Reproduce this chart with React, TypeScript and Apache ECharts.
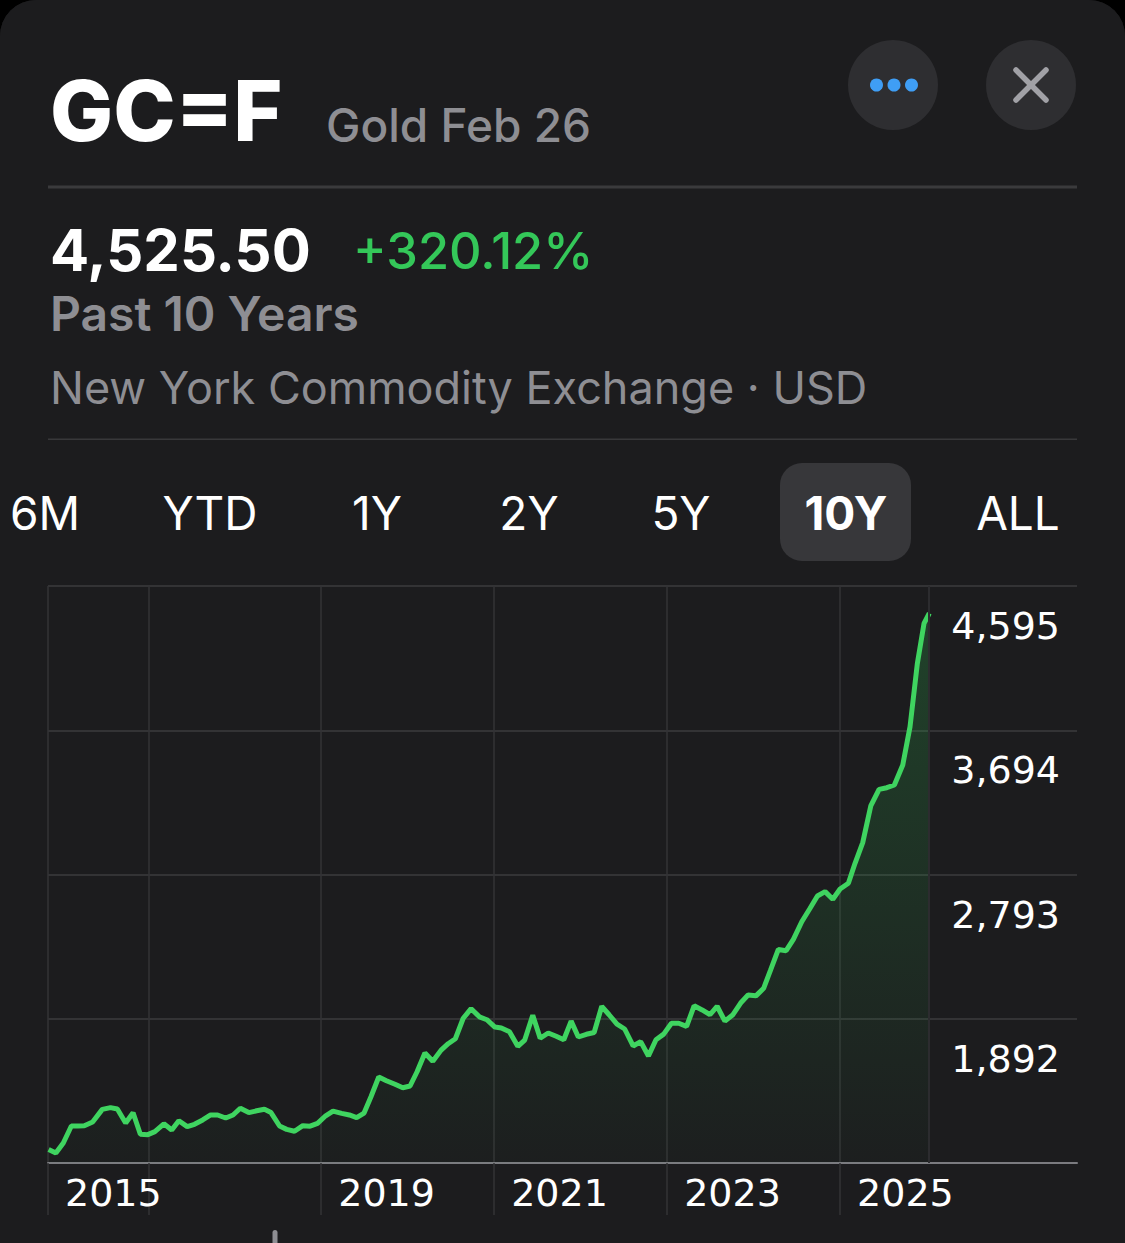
import React, { useEffect, useRef } from "react";
import * as echarts from "echarts";

// ---- data ----
const yearFrac = [
  2015.847, 2015.931, 2016.017, 2016.11, 2016.185, 2016.26, 2016.356, 2016.468, 2016.563, 2016.642,
  2016.738, 2016.824, 2016.908, 2016.995, 2017.076, 2017.18, 2017.271, 2017.353, 2017.45, 2017.534,
  2017.629, 2017.721, 2017.801, 2017.895, 2017.98, 2018.064, 2018.162, 2018.253, 2018.343, 2018.419,
  2018.518, 2018.6, 2018.691, 2018.787, 2018.871, 2018.957, 2019.051, 2019.136, 2019.236, 2019.325,
  2019.409, 2019.495, 2019.575, 2019.665, 2019.754, 2019.853, 2019.943, 2020.027, 2020.108, 2020.199,
  2020.29, 2020.386, 2020.468, 2020.551, 2020.642, 2020.733, 2020.829, 2020.915, 2021.008, 2021.083,
  2021.177, 2021.273, 2021.353, 2021.446, 2021.532, 2021.625, 2021.717, 2021.805, 2021.89, 2021.973,
  2022.066, 2022.156, 2022.244, 2022.329, 2022.42, 2022.509, 2022.607, 2022.694, 2022.784, 2022.871,
  2022.96, 2023.05, 2023.134, 2023.225, 2023.312, 2023.405, 2023.495, 2023.578, 2023.668, 2023.757,
  2023.85, 2023.936, 2024.027, 2024.116, 2024.197, 2024.286, 2024.376, 2024.46, 2024.557, 2024.653,
  2024.738, 2024.827, 2024.916, 2025.0, 2025.096, 2025.173, 2025.262, 2025.355, 2025.451, 2025.54,
  2025.628, 2025.725, 2025.809, 2025.894, 2025.971, 2026.032,
];
const prices = [
  1075, 1053, 1116, 1222, 1222, 1224, 1247, 1326, 1337, 1328,
  1241, 1305, 1171, 1168, 1187, 1236, 1197, 1255, 1218, 1233,
  1260, 1291, 1291, 1272, 1291, 1333, 1306, 1317, 1327, 1306,
  1222, 1201, 1189, 1224, 1221, 1239, 1286, 1315, 1301, 1291,
  1275, 1303, 1405, 1528, 1505, 1483, 1461, 1472, 1561, 1678,
  1626, 1696, 1736, 1767, 1895, 1955, 1904, 1886, 1840, 1834,
  1811, 1720, 1759, 1914, 1770, 1803, 1783, 1761, 1877, 1778,
  1795, 1806, 1970, 1917, 1858, 1828, 1722, 1749, 1659, 1761,
  1796, 1864, 1864, 1844, 1973, 1947, 1917, 1970, 1877, 1915,
  1990, 2040, 2035, 2082, 2197, 2325, 2317, 2388, 2498, 2582,
  2659, 2686, 2638, 2702, 2738, 2863, 2992, 3221, 3325, 3335,
  3352, 3477, 3716, 4112, 4362, 4425,
];
const yMin = 991;
const yStep = 901;
const yMax = 4595;
const xMin = 2015.84;
const xMax = 2027.74;
const xGridYears = [2017, 2019, 2021, 2023, 2025];
const xLabelYears = [2019, 2021, 2023, 2025];
const rangeLabels = ["6M", "YTD", "1Y", "2Y", "5Y", "10Y", "ALL"];
const selectedRange = "10Y";
const ticker = "GC=F";
const instrumentName = "Gold Feb 26";
const lastPrice = "4,525.50";
const changePct = "+320.12%";
const periodText = "Past 10 Years";
const exchangeText = "New York Commodity Exchange · USD";

const FONT = "Inter, 'Noto Sans', sans-serif";
const AXIS_FONT = "'DejaVu Sans', Inter, sans-serif";
const GREEN_LINE = "#3fd460";
const GREEN_TEXT = "#34c759";
const GREY_TEXT = "#8e8e93";
const BG = "#1c1c1e";

export default function App() {
  const ref = useRef<HTMLDivElement>(null);

  useEffect(() => {
    if (!ref.current) return;
    const chart = echarts.init(ref.current, null, { renderer: "svg" });

    const rangeCenters = [45, 210, 377, 529, 681, 846, 1018];
    const graphics: any[] = [
      // header
      {
        type: "text", x: 50, y: 110,
        style: { text: ticker, fill: "#ffffff", font: `800 84px ${FONT}`, align: "left", verticalAlign: "middle" },
      },
      {
        type: "text", x: 326, y: 125,
        style: { text: instrumentName, fill: GREY_TEXT, font: `500 46px ${FONT}`, align: "left", verticalAlign: "middle" },
      },
      { type: "circle", shape: { cx: 893, cy: 85, r: 45 }, style: { fill: "#2e2e31" } },
      { type: "circle", shape: { cx: 876.5, cy: 85, r: 6.5 }, style: { fill: "#3f9ef5" } },
      { type: "circle", shape: { cx: 894, cy: 85, r: 6.5 }, style: { fill: "#3f9ef5" } },
      { type: "circle", shape: { cx: 911.5, cy: 85, r: 6.5 }, style: { fill: "#3f9ef5" } },
      { type: "circle", shape: { cx: 1031, cy: 85, r: 45 }, style: { fill: "#2e2e31" } },
      { type: "line", shape: { x1: 1016, y1: 70, x2: 1046, y2: 100 }, style: { stroke: "#a1a1a6", lineWidth: 5.5, lineCap: "round" } },
      { type: "line", shape: { x1: 1046, y1: 70, x2: 1016, y2: 100 }, style: { stroke: "#a1a1a6", lineWidth: 5.5, lineCap: "round" } },
      { type: "rect", shape: { x: 48, y: 185.5, width: 1029, height: 3 }, style: { fill: "#3a3a3c" } },
      {
        type: "text", x: 50, y: 250,
        style: { text: lastPrice, fill: "#ffffff", font: `700 58px ${FONT}`, align: "left", verticalAlign: "middle" },
      },
      {
        type: "text", x: 353, y: 250,
        style: { text: changePct, fill: GREEN_TEXT, font: `500 50.5px ${FONT}`, align: "left", verticalAlign: "middle" },
      },
      {
        type: "text", x: 50, y: 313,
        style: { text: periodText, fill: GREY_TEXT, font: `600 48px ${FONT}`, align: "left", verticalAlign: "middle" },
      },
      {
        type: "text", x: 50, y: 387,
        style: { text: exchangeText, fill: GREY_TEXT, font: `400 45px ${FONT}`, align: "left", verticalAlign: "middle" },
      },
      { type: "rect", shape: { x: 48, y: 438.5, width: 1029, height: 1.5 }, style: { fill: "#38383a" } },
      { type: "rect", shape: { x: 780, y: 463, width: 131, height: 98, r: 22 }, style: { fill: "#37373a" } },
      // small scroll/indicator mark at bottom
      { type: "rect", shape: { x: 272.5, y: 1230, width: 5, height: 20, r: 2.5 }, style: { fill: "#8e8e93" } },
    ];
    rangeLabels.forEach((lab, i) => {
      graphics.push({
        type: "text", x: rangeCenters[i], y: 513,
        style: {
          text: lab, fill: "#ffffff",
          font: `${lab === selectedRange ? 700 : 400} 46px ${FONT}`,
          align: "center", verticalAlign: "middle",
        },
      });
    });

    const option: any = {
      animation: false,
      backgroundColor: BG,
      grid: { left: 48, top: 586, width: 1029, height: 577, containLabel: false },
      xAxis: {
        type: "value",
        min: xMin,
        max: xMax,
        axisLine: { show: true, lineStyle: { color: "#7b7b80", width: 2 } },
        axisTick: {
          show: true,
          customValues: [xMin, ...xGridYears],
          length: 52,
          inside: false,
          lineStyle: { color: "#333336", width: 1.5 },
        },
        splitLine: { show: true, lineStyle: { color: "#333336", width: 1.5 } },
        axisLabel: {
          customValues: [xMin, ...xLabelYears],
          formatter: (v: number) => String(Math.floor(v)),
          color: "#ffffff",
          fontFamily: AXIS_FONT,
          fontSize: 38,
          lineHeight: 40,
          align: "left",
          padding: [0, 0, 0, 17],
          margin: 10,
        },
      },
      yAxis: {
        type: "value",
        position: "right",
        min: yMin,
        max: yMax,
        interval: yStep,
        axisLine: { show: false },
        axisTick: { show: false },
        splitLine: { show: true, lineStyle: { color: "#3b3b3e", width: 1.5 } },
        axisLabel: {
          inside: true,
          margin: 17,
          showMinLabel: false,
          color: "#ffffff",
          fontFamily: AXIS_FONT,
          fontSize: 38,
          lineHeight: 40,
          verticalAlign: "top",
          padding: [20, 0, 0, 0],
          formatter: (v: number) => Math.round(v).toLocaleString("en-US"),
        },
      },
      series: [
        {
          type: "line",
          data: yearFrac.map((x, i) => [x, prices[i]]),
          symbol: "none",
          showSymbol: false,
          lineStyle: { color: GREEN_LINE, width: 5 },
          areaStyle: {
            color: new echarts.graphic.LinearGradient(0, 0, 0, 1, [
              { offset: 0, color: "rgba(48,209,88,0.30)" },
              { offset: 1, color: "rgba(48,209,88,0.02)" },
            ]),
          },
          markLine: {
            silent: true,
            symbol: "none",
            label: { show: false },
            lineStyle: { color: "#2c2c2f", width: 2, type: "solid" },
            data: [{ xAxis: yearFrac[yearFrac.length - 1] }],
          },
        },
      ],
      graphic: graphics,
    };
    chart.setOption(option);
    return () => chart.dispose();
  }, []);

  return (
    <div style={{ position: "fixed", left: 0, top: 0, width: 1125, height: 1243, background: "#000" }}>
      <div
        style={{
          width: 1125,
          height: 1243,
          borderRadius: "36px 36px 0 0",
          overflow: "hidden",
          background: BG,
        }}
      >
        <div ref={ref} style={{ width: 1125, height: 1243 }} />
      </div>
    </div>
  );
}
